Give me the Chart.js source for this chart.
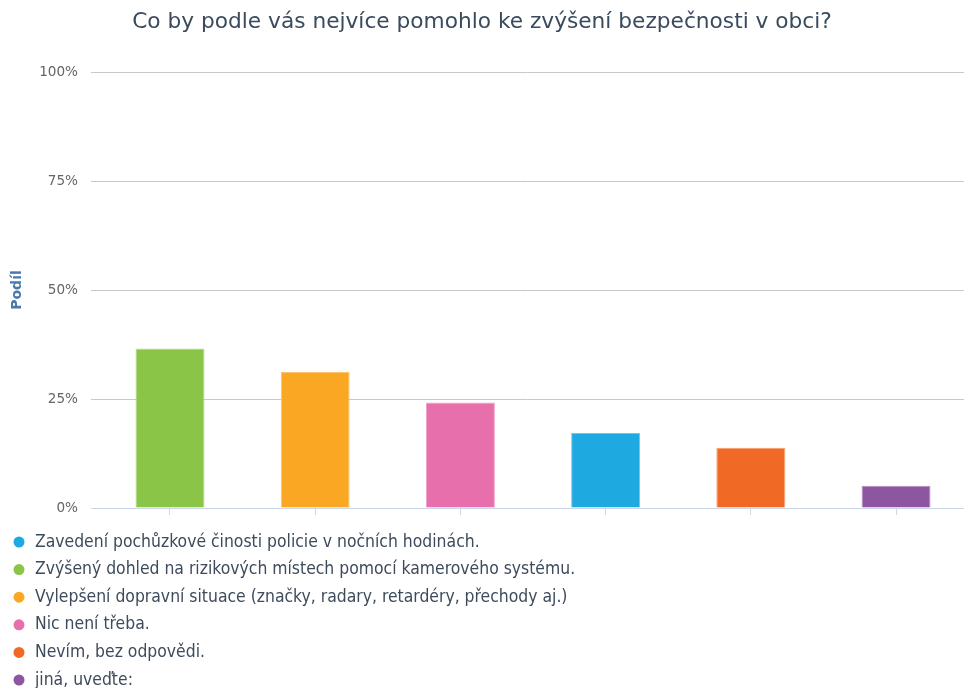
<!DOCTYPE html>
<html>
<head>
<meta charset="utf-8">
<script src="https://cdn.jsdelivr.net/npm/chart.js@4/dist/chart.umd.min.js"></script>
<style>
  html, body { margin: 0; padding: 0; background: #fff; }
  #wrap { width: 964px; height: 688px; }
</style>
</head>
<body>
<div id="wrap"><canvas id="chart"></canvas></div>
<script>
const answers = [
    'Zavedení pochůzkové činosti policie v nočních hodinách.',
    'Zvýšený dohled na rizikových místech pomocí kamerového systému.',
    'Vylepšení dopravní situace (značky, radary, retardéry, přechody aj.)',
    'Nic není třeba.',
    'Nevím, bez odpovědi.',
    'jiná, uveďte:'
];
const shares = [17.2, 36.6, 31.2, 24.2, 13.8, 5.1];
const colors = ['#1fa9e1', '#8bc548', '#faa823', '#e66fac', '#f16a25', '#8e56a0'];
const yTicks = [0, 25, 50, 75, 100];

const titleText = 'Co by podle vás nejvíce pomohlo ke zvýšení bezpečnosti v obci?';
const condensed = '"DejaVu Sans Condensed", "DejaVu Sans", sans-serif';

// lighter edge like the original export
function tint(hex, amount) {
    const n = parseInt(hex.slice(1), 16);
    const mix = (c) => Math.round(c + (255 - c) * amount);
    return 'rgb(' + mix(n >> 16) + ',' + mix((n >> 8) & 255) + ',' + mix(n & 255) + ')';
}

// bars are shown from the biggest share to the smallest
const order = shares.map((v, i) => i).sort((a, b) => shares[b] - shares[a]);
const rank = [];
order.forEach((idx, pos) => { rank[idx] = pos; });

const datasets = answers.map((label, i) => ({
    label: label,
    data: [{ x: rank[i], y: shares[i] }],
    backgroundColor: colors[i],
    borderColor: tint(colors[i], 0.35),
    borderWidth: 1,
    grouped: false,
    categoryPercentage: 1,
    barPercentage: 0.475
}));

// legend drawn as a single column under the plot
const columnLegend = {
    id: 'columnLegend',
    afterDraw(chart) {
        const ctx = chart.ctx;
        const top = chart.chartArea.bottom + 34;
        ctx.save();
        ctx.font = '17.4px ' + condensed;
        ctx.textBaseline = 'middle';
        answers.forEach((label, i) => {
            const y = top + i * 27.6;
            ctx.fillStyle = colors[i];
            ctx.beginPath();
            ctx.arc(19, y, 5.5, 0, Math.PI * 2);
            ctx.fill();
            ctx.fillStyle = '#3d4b5c';
            ctx.fillText(label, 35, y);
        });
        ctx.restore();
    }
};

new Chart(document.getElementById('chart'), {
    type: 'bar',
    data: { datasets: datasets },
    options: {
        responsive: true,
        maintainAspectRatio: false,
        animation: false,
        layout: { padding: { left: 0, right: 0, top: 0, bottom: 173 } },
        scales: {
            x: {
                type: 'linear',
                offset: false,
                min: -0.544,
                max: 5.468,
                afterBuildTicks: (scale) => {
                    scale.ticks = order.map((idx, pos) => ({ value: pos }));
                },
                ticks: { display: false },
                grid: {
                    offset: false,
                    drawOnChartArea: false,
                    drawTicks: true,
                    tickLength: 7,
                    color: '#ccd6eb'
                },
                border: { display: true, color: '#ccd6eb', width: 1 }
            },
            y: {
                min: 0,
                max: 100,
                afterBuildTicks: (scale) => {
                    scale.ticks = yTicks.map(v => ({ value: v }));
                },
                afterFit: (scale) => { scale.width = 91; },
                ticks: {
                    callback: (v) => v + '%',
                    color: '#666666',
                    padding: 13,
                    font: { family: 'DejaVu Sans', size: 13.6 }
                },
                grid: { color: '#c8c8c8', drawTicks: false },
                border: { display: false },
                title: {
                    display: true,
                    text: 'Podíl',
                    color: '#4a78ad',
                    padding: { top: 9, bottom: 0 },
                    font: { family: 'DejaVu Sans', size: 14, weight: 'bold' }
                }
            }
        },
        plugins: {
            legend: { display: false },
            tooltip: { enabled: false },
            title: {
                display: true,
                text: titleText,
                color: '#3a4b5e',
                padding: { top: 9, bottom: 37 },
                font: { family: 'DejaVu Sans', size: 21.7, weight: 'normal' }
            }
        }
    },
    plugins: [columnLegend]
});
</script>
</body>
</html>
